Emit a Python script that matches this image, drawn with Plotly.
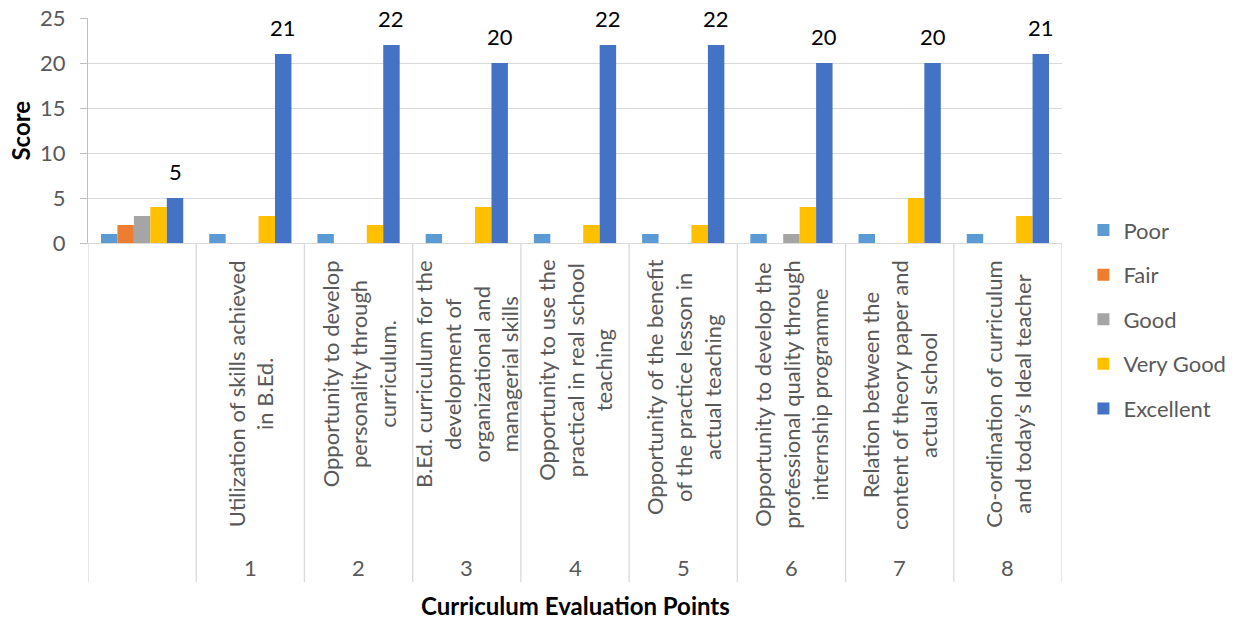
import plotly.graph_objects as go

groups = ["", "1", "2", "3", "4", "5", "6", "7", "8"]
point_labels = [
    "",
    "Utilization of skills achieved<br>in B.Ed.",
    "Opportunity to develop<br>personality through<br>curriculum.",
    "B.Ed. curriculum for the<br>development of<br>organizational and<br>managerial skills",
    "Opportunity to use the<br>practical in real school<br>teaching",
    "Opportunity of the benefit<br>of the practice lesson in<br>actual teaching",
    "Opportunity to develop the<br>professional quality through<br>internship programme",
    "Relation between the<br>content of theory paper and<br>actual school",
    "Co-ordination of curriculum<br>and today’s Ideal teacher",
]
poor = [1, 1, 1, 1, 1, 1, 1, 1, 1]
fair = [2, 0, 0, 0, 0, 0, 0, 0, 0]
good = [3, 0, 0, 0, 0, 0, 1, 0, 0]
very_good = [4, 3, 2, 4, 2, 2, 4, 5, 3]
excellent = [5, 21, 22, 20, 22, 22, 20, 20, 21]

series = [
    ("Poor", poor, "#5B9BD5"),
    ("Fair", fair, "#ED7D31"),
    ("Good", good, "#A5A5A5"),
    ("Very Good", very_good, "#FFC000"),
    ("Excellent", excellent, "#4472C4"),
]

FONT = "Lato"
GRAY = "#595959"
xs = list(range(len(groups)))

fig = go.Figure()
for name, vals, color in series:
    fig.add_trace(go.Bar(
        x=xs, y=vals, name=name, marker_color=color,
        marker_line_width=0, legendgroup=name,
    ))

n = len(series)
gap = 0.24
bw = (1 - gap) / n
exc_offset = -(1 - gap) / 2 + bw * (n - 0.5)

annotations = []
for i, v in enumerate(excellent):
    annotations.append(dict(
        x=xs[i] + exc_offset, y=v, xref="x", yref="y", text=str(v),
        showarrow=False, yanchor="bottom", xanchor="center", yshift=11,
        font=dict(family=FONT, size=22, color="black"),
    ))
for i, lab in enumerate(point_labels):
    if lab:
        annotations.append(dict(
            x=xs[i], y=-0.068, xref="x", yref="paper", text=lab,
            showarrow=False, textangle=-90, yanchor="top", xanchor="center",
            align="center", font=dict(family=FONT, size=22, color=GRAY),
        ))
    annotations.append(dict(
        x=xs[i], y=-1.444, xref="x", yref="paper", text=groups[i],
        showarrow=False, yanchor="middle", xanchor="center",
        font=dict(family=FONT, size=22, color=GRAY),
    ))
annotations.append(dict(
    x=-0.0698, y=0.5, xref="paper", yref="paper", text="<b>Score</b>",
    showarrow=False, textangle=-90, xanchor="center", yanchor="middle",
    font=dict(family=FONT, size=24, color="black"),
))
annotations.append(dict(
    x=0.5, y=-1.609, xref="paper", yref="paper", text="<b>Curriculum Evaluation Points</b>",
    showarrow=False, xanchor="center", yanchor="middle",
    font=dict(family=FONT, size=24, color="black"),
))

shapes = []
for k in range(len(groups) + 1):
    shapes.append(dict(
        type="line", xref="x", yref="paper", x0=k - 0.5, x1=k - 0.5,
        y0=0, y1=-1.507, line=dict(color="#D9D9D9", width=1.3),
    ))

# page body has an 8px margin, so the figure is 8px smaller and margins shifted
fig.update_layout(
    width=1230, height=611,
    margin=dict(l=80, r=176, t=10, b=376, autoexpand=False),
    plot_bgcolor="white", paper_bgcolor="white",
    barmode="group", bargap=gap, bargroupgap=0,
    annotations=annotations, shapes=shapes,
    legend=dict(
        x=1.022, y=0.15, xanchor="left", yanchor="top",
        font=dict(family=FONT, size=22, color=GRAY),
        tracegroupgap=13, bgcolor="rgba(0,0,0,0)", maxheight=400,
    ),
    xaxis=dict(
        range=[-0.5, len(groups) - 0.5], showticklabels=False, showgrid=False,
        zeroline=False, showline=True, linecolor="#D9D9D9", linewidth=1.3,
        ticks="",
    ),
    yaxis=dict(
        range=[0, 25], dtick=5, showgrid=True, gridcolor="#D9D9D9", gridwidth=1.3,
        zeroline=False, showline=True, linecolor="#BFBFBF", linewidth=1.3,
        ticks="outside", ticklen=7, tickcolor="#BFBFBF",
        ticklabelstandoff=10, ticklabeloverflow="allow",
        tickfont=dict(family=FONT, size=22, color=GRAY),
    ),
    showlegend=True,
)

fig.write_html("out.html")
